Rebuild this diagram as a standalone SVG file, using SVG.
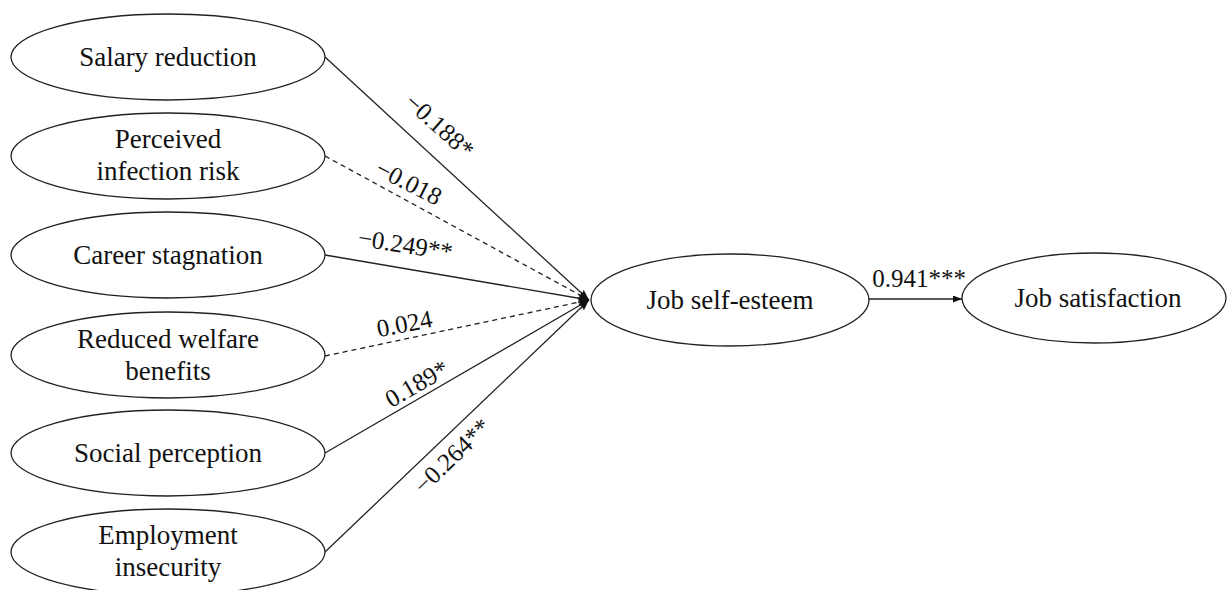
<svg xmlns="http://www.w3.org/2000/svg" width="1229" height="590" viewBox="0 0 1229 590">
<style>
.node ellipse{fill:#fff;stroke:#222;stroke-width:1.3}
.node text{font-size:27px;fill:#111;text-anchor:middle}
.edge{stroke:#222;stroke-width:1.3;fill:none}
.dash{stroke-dasharray:5,4}
.lbl{font-size:25px;fill:#111;text-anchor:middle}
</style>
<defs>
<marker id="arr" markerUnits="userSpaceOnUse" markerWidth="12" markerHeight="10" refX="11" refY="4" orient="auto">
<path d="M0,0 L11,4 L0,8 L2,4 z" fill="#111"/>
</marker>
<marker id="arr2" markerUnits="userSpaceOnUse" markerWidth="10" markerHeight="8" refX="9" refY="3.5" orient="auto">
<path d="M0,0 L9,3.5 L0,7 z" fill="#111"/>
</marker>
</defs>
<g font-family="'Liberation Serif', 'Times New Roman', serif">
<g id="connectors">
<line class="edge" x1="325" y1="57" x2="589" y2="300" marker-end="url(#arr)"/>
<line class="edge dash" x1="325" y1="156" x2="589" y2="300" marker-end="url(#arr)"/>
<line class="edge" x1="325" y1="255" x2="589" y2="300" marker-end="url(#arr)"/>
<line class="edge dash" x1="325" y1="356" x2="589" y2="300" marker-end="url(#arr)"/>
<line class="edge" x1="325" y1="453" x2="589" y2="300" marker-end="url(#arr)"/>
<line class="edge" x1="325" y1="552" x2="589" y2="300" marker-end="url(#arr)"/>
<line class="edge" x1="869" y1="299" x2="962" y2="299" marker-end="url(#arr2)"/>
<text class="lbl" x="434" y="132" transform="rotate(42 434 132)">−0.188*</text>
<text class="lbl" x="405" y="190" transform="rotate(27 405 190)">−0.018</text>
<text class="lbl" x="404" y="253" transform="rotate(9 404 253)">−0.249**</text>
<text class="lbl" x="406" y="332" transform="rotate(-11 406 332)">0.024</text>
<text class="lbl" x="421" y="391" transform="rotate(-30 421 391)">0.189*</text>
<text class="lbl" x="458" y="462" transform="rotate(-44 458 462)">−0.264**</text>
<text class="lbl" x="919" y="287">0.941***</text>
</g>
<g id="n-salary" class="node">
<ellipse cx="168" cy="57" rx="157" ry="43"/>
<text x="168" y="66">Salary reduction</text>
</g>
<g id="n-infection" class="node">
<ellipse cx="168" cy="156" rx="157" ry="43"/>
<text x="168" y="148">Perceived</text>
<text x="168" y="180">infection risk</text>
</g>
<g id="n-career" class="node">
<ellipse cx="168" cy="255" rx="157" ry="43"/>
<text x="168" y="264">Career stagnation</text>
</g>
<g id="n-welfare" class="node">
<ellipse cx="168" cy="355" rx="157" ry="43"/>
<text x="168" y="348">Reduced welfare</text>
<text x="168" y="380">benefits</text>
</g>
<g id="n-social" class="node">
<ellipse cx="168" cy="453" rx="157" ry="43"/>
<text x="168" y="462">Social perception</text>
</g>
<g id="n-employment" class="node">
<ellipse cx="168" cy="552" rx="157" ry="43"/>
<text x="168" y="544">Employment</text>
<text x="168" y="576">insecurity</text>
</g>
<g id="n-selfesteem" class="node">
<ellipse cx="730" cy="300" rx="139" ry="46"/>
<text x="730" y="309">Job self-esteem</text>
</g>
<g id="n-satisfaction" class="node">
<ellipse cx="1094" cy="298" rx="132" ry="45"/>
<text x="1098" y="307">Job satisfaction</text>
</g>
</g>
</svg>
